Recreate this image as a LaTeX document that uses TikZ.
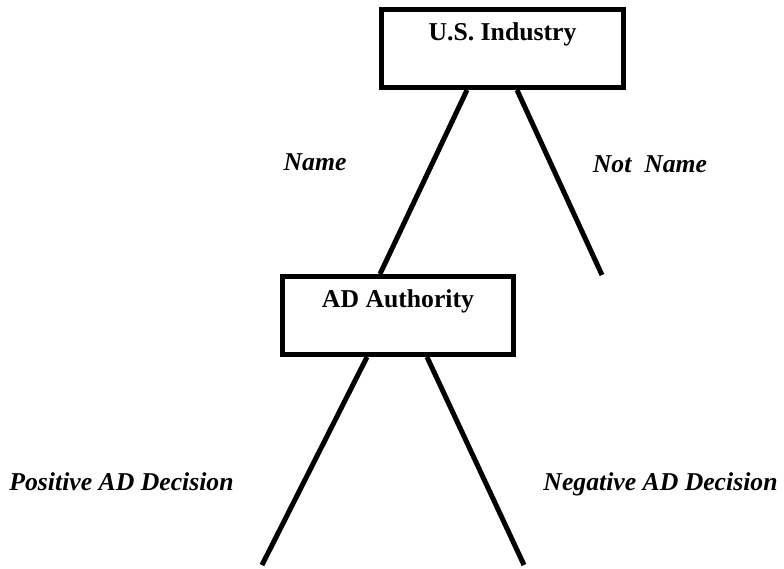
\documentclass[tikz,border=0pt]{standalone}
\usepackage{fontspec}
\setmainfont{Liberation Serif}
\usepackage{tikz}
\usetikzlibrary{positioning}

\tikzset{
  player/.style={draw, rectangle, line width=5, inner xsep=0pt, inner ysep=0pt,
    text height=30.5pt, text depth=47.5pt, text centered,
    font=\fontsize{25.7}{30}\selectfont\bfseries},
  move/.style={anchor=base, text centered,
    font=\fontsize{25.7}{30}\selectfont\bfseries\itshape},
}

\begin{document}
\begin{tikzpicture}[x=1pt, y=-1pt]
\useasboundingbox (0,0) rectangle (784,568);

% nodes %
\node[player, minimum width=242pt] (ind) at (502.5,48.5) {U.S. Industry};
\node[player, minimum width=231pt] (auth) at (398,315.5) {AD Authority};

\node[move] (name) at (315,170) {Name};
\node[move] (notname) at (650,172) {Not\ \ Name};
\node[move] (pos) at (121.5,490) {Positive AD Decision};
\node[move] (neg) at (660.5,490) {Negative AD Decision};

\coordinate (notnameend) at (602,275);
\coordinate (posend) at (262,565);
\coordinate (negend) at (524,565);

% edges %

%U.S. Industry%
\draw[line width= 5] ([xshift=-35.5pt]ind.south) -- ([xshift=-18pt]auth.north);
\draw[line width= 5] ([xshift=14.5pt]ind.south) -- (notnameend);

%AD Authority%
\draw[line width= 5] ([xshift=-31pt]auth.south) -- (posend);
\draw[line width= 5] ([xshift=29pt]auth.south) -- (negend);

\end{tikzpicture}
\end{document}
